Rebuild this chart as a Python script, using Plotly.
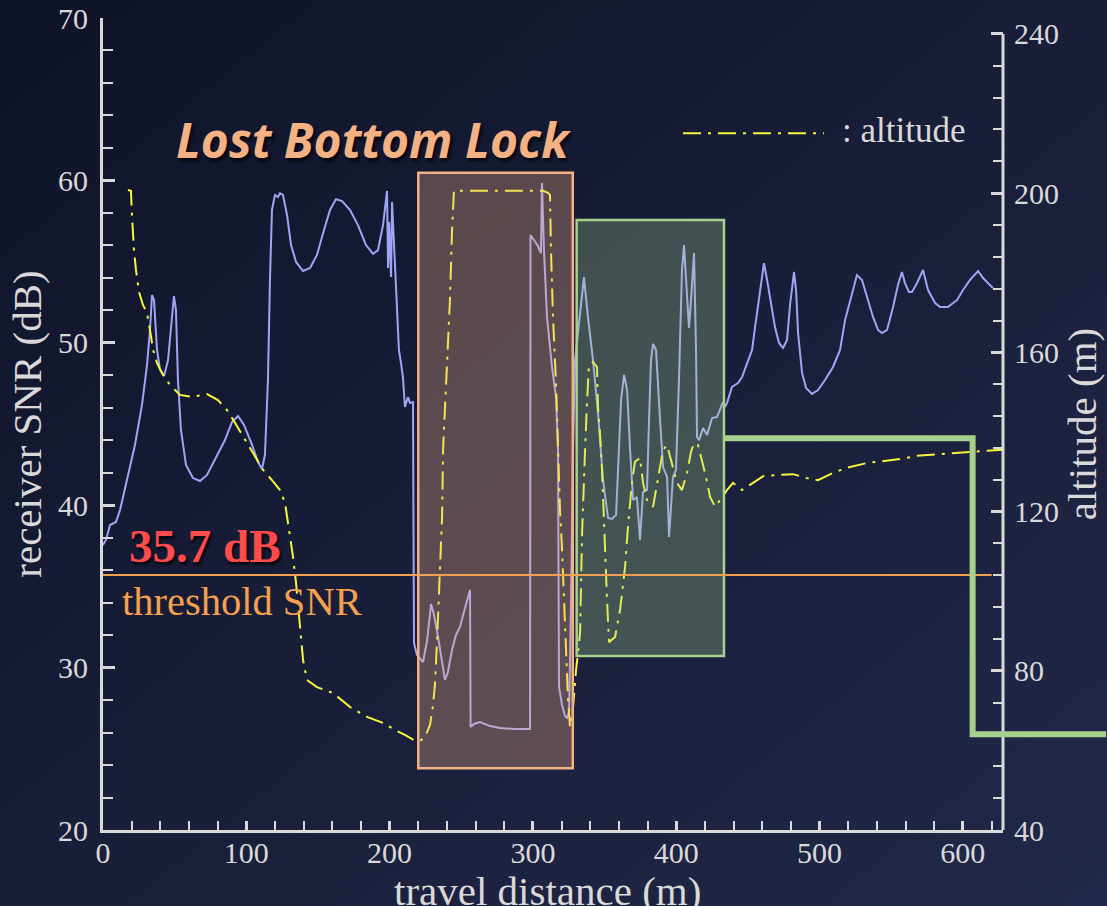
import base64
import plotly.graph_objects as go

# ---------------- data ----------------
distance_snr = [0, 2.1, 4.9, 9.1, 11.9, 16.7, 22.3, 27.2, 30.7, 32.8, 34.2, 35.6, 37.7, 39.8, 42.6,
                45.4, 47.5, 49.5, 50.9, 52.3, 54.4, 57.9, 62.8, 67.7, 72.6, 78.2, 85.1, 90.0, 94.2,
                98.4, 104.0, 108.2, 110.9, 113.0, 115.1, 116.5, 117.9, 120.0, 122.1, 123.5, 125.6,
                128.4, 131.2, 134.7, 139.6, 144.5, 149.3, 154.2, 158.4, 162.6, 166.8, 172.4, 177.9,
                183.5, 188.4, 191.9, 195.4, 198.2, 198.9, 199.6, 201.0, 201.7, 203.8, 205.2, 206.5,
                207.9, 209.3, 210.7, 212.8, 214.2, 216.3, 217.0, 219.1, 223.3, 226.2, 228.9, 231.0,
                233.8, 236.6, 238.6, 240.7, 243.5, 246.3, 249.1, 252.6, 256.1, 256.5, 258.9, 263.1,
                270.1, 277.0, 287.5, 298.0, 298.3, 300.7, 303.5, 305.6, 306.3, 307.7, 309.8, 313.3,
                316.1, 317.5, 318.2, 320.3, 322.4, 323.8, 325.2, 326.6, 328.0, 329.4, 332.2, 335.6,
                338.4, 341.9, 345.4, 348.9, 352.4, 355.2, 358.0, 360.1, 361.5, 363.6, 365.7, 367.8,
                369.9, 372.6, 374.7, 376.8, 379.6, 381.0, 382.4, 383.8, 385.9, 388.7, 390.8, 393.6,
                395.0, 397.7, 399.8, 401.9, 404.0, 405.4, 407.5, 408.9, 410.3, 412.4, 413.8, 414.5,
                415.9, 418.7, 421.5, 425.0, 428.4, 432.6, 434.0, 435.4, 438.9, 443.1, 445.9, 449.4,
                452.9, 455.0, 458.5, 461.2, 463.4, 465.4, 468.9, 471.7, 474.5, 477.3, 479.4, 482.2,
                483.6, 485.0, 487.8, 490.6, 494.7, 498.9, 503.8, 509.4, 514.3, 517.8, 522.7, 526.1,
                529.6, 533.8, 537.3, 540.8, 543.6, 547.1, 551.3, 554.7, 557.5, 559.6, 562.4, 564.5,
                568.0, 572.2, 575.7, 580.6, 584.1, 589.6, 596.0, 600.1, 605.0, 610.6, 614.1, 616.8,
                621.0]
snr_db = [37.55, 37.86, 38.78, 38.97, 39.70, 41.55, 43.71, 46.17, 48.63, 50.79, 52.94, 52.63, 49.56,
          48.33, 47.96, 48.94, 50.79, 52.88, 52.02, 47.71, 44.63, 42.48, 41.67, 41.49, 41.86, 42.78,
          44.01, 45.12, 45.49, 44.94, 43.71, 42.66, 42.23, 43.09, 47.71, 53.87, 58.18, 59.10, 58.98,
          59.22, 59.10, 57.87, 56.02, 54.98, 54.42, 54.61, 55.41, 56.95, 58.18, 58.85, 58.73, 58.18,
          57.25, 56.02, 55.47, 55.71, 57.25, 59.35, 54.61, 57.44, 54.05, 58.67, 54.48, 51.22, 49.56,
          48.76, 47.89, 46.05, 46.66, 46.29, 46.35, 31.51, 30.78, 30.34, 31.70, 33.92, 33.24, 31.88,
          30.16, 29.24, 29.73, 31.08, 32.01, 32.50, 33.67, 34.78, 26.34, 26.53, 26.65, 26.40, 26.28,
          26.22, 26.22, 56.64, 56.33, 55.96, 55.53, 59.84, 55.71, 51.59, 48.51, 46.66, 43.40, 28.81,
          27.70, 27.02, 26.90, 27.27, 34.16, 43.40, 48.94, 51.40, 54.05, 51.59, 48.94, 45.68, 41.55,
          39.21, 39.15, 39.40, 43.40, 46.48, 48.02, 47.09, 43.40, 40.32, 40.50, 37.86, 40.81, 40.94,
          45.25, 48.94, 49.93, 49.56, 45.25, 42.35, 41.74, 38.04, 41.74, 42.17, 47.71, 54.48, 56.02,
          52.63, 50.91, 52.63, 55.53, 49.56, 44.20, 44.01, 44.75, 44.32, 45.37, 45.43, 46.35, 46.05,
          46.29, 47.28, 47.52, 47.89, 48.76, 49.56, 50.97, 53.25, 54.91, 53.87, 52.82, 50.97, 49.99,
          49.68, 50.17, 52.33, 54.36, 53.25, 50.60, 48.14, 47.22, 46.85, 47.09, 47.71, 48.51, 49.56,
          51.40, 53.07, 54.17, 53.87, 52.64, 51.59, 50.79, 50.60, 50.79, 52.20, 53.56, 54.36, 53.68,
          53.13, 53.13, 53.68, 54.48, 53.25, 52.45, 52.20, 52.20, 52.64, 53.25, 53.87, 54.42, 53.99,
          53.74, 53.37]

distance_alt = [17.4, 19.5, 20.2, 21.6, 23.0, 25.1, 27.9, 30.7, 32.8, 35.0, 37.7, 41.9, 46.8, 53.7,
                62.1, 72.6, 80.2, 86.5, 92.1, 100.5, 107.5, 111.6, 117.9, 123.5, 127.0, 129.1, 131.2,
                132.6, 134.7, 137.5, 139.6, 142.3, 149.3, 160.5, 172.4, 184.2, 195.4, 203.8, 210.7,
                217.7, 221.2, 224.7, 228.2, 230.3, 231.7, 233.1, 234.5, 236.6, 237.3, 240.0, 242.1,
                243.5, 244.9, 263.1, 284.0, 307.0, 310.5, 311.9, 312.6, 314.0, 316.1, 317.5, 318.9,
                320.3, 322.4, 324.5, 325.9, 328.0, 330.1, 331.5, 332.9, 334.3, 335.6, 336.3, 337.7,
                339.1, 341.9, 344.7, 345.4, 346.8, 348.2, 349.6, 351.7, 353.1, 357.3, 360.8, 364.3,
                366.3, 369.1, 371.2, 374.7, 376.8, 379.6, 383.8, 386.6, 388.7, 390.8, 393.6, 397.1,
                400.5, 404.0, 407.5, 410.3, 412.4, 415.2, 418.0, 420.1, 423.6, 427.1, 430.6, 435.4,
                439.6, 445.9, 453.6, 460.6, 472.4, 481.5, 491.3, 498.9, 509.4, 519.2, 533.1, 544.3,
                556.1, 568.0, 584.1, 605.0, 628.0]
altitude_m = [200.8, 200.6, 194.5, 185.7, 180.7, 175.2, 171.9, 169.9, 165.6, 160.6, 157.3, 154.3,
              151.8, 149.3, 148.8, 149.5, 148.0, 145.5, 142.3, 137.2, 133.0, 130.5, 127.9, 125.4,
              122.2, 117.1, 112.1, 108.6, 102.1, 90.3, 82.7, 77.7, 75.9, 74.4, 70.9, 68.4, 66.9, 65.1,
              63.9, 62.4, 62.4, 63.4, 66.4, 71.4, 76.9, 87.7, 102.1, 118.6, 135.5, 156.3, 173.2, 190.0,
              200.6, 200.6, 200.6, 200.6, 200.1, 199.5, 185.7, 168.9, 152.3, 135.5, 120.4, 110.4, 89.5,
              72.7, 65.9, 70.9, 80.2, 85.2, 89.5, 114.6, 131.2, 134.7, 147.3, 156.8, 157.6, 156.3,
              146.3, 139.7, 130.5, 115.4, 97.8, 87.2, 88.5, 95.3, 106.1, 116.1, 127.2, 132.5, 133.5,
              127.2, 122.9, 121.2, 127.2, 131.2, 135.5, 136.7, 132.2, 127.2, 125.4, 129.7, 135.0,
              137.2, 136.7, 133.0, 129.7, 123.7, 121.2, 122.9, 125.4, 127.2, 125.4, 127.2, 128.9,
              129.2, 129.4, 128.4, 127.9, 129.7, 131.0, 132.2, 132.7, 133.2, 134.0, 134.5, 135.0,
              135.5]

threshold_db = 35.7
lost_lock_x = [220.0, 327.8]
lost_lock_snr = [23.8, 60.47]
recovery_x = [330.5, 433.3]
recovery_snr = [30.71, 57.56]
step_x = [433.3, 606.8, 606.8, 700.0]
step_snr = [44.12, 44.12, 25.9, 25.9]
threshold_x = [0, 620.1]
legend_x = [404.7, 503.0]
legend_snr = 62.9

X_RANGE = [0, 628]
SNR_RANGE = [20, 70]
ALT_RANGE = [40, 244]
ALT_AXIS = [40, 240]

# ---------------- styles ----------------
AXIS_COLOR = "#d9d9d9"
SERIF = "Liberation Serif"
SNR_COLOR = "#a0a4f4"
ALT_COLOR = "#f7f73a"
SALMON = "#f4b183"
GREEN = "#a9d18e"
DASHDOT = "18px,7px,3px,7px"

W, H = 1107, 906
ML, MR, MT, MB = 103, 104, 18, 76
PW, PH = W - ML - MR, H - MT - MB


def paper_x(v):
    return (v - X_RANGE[0]) / (X_RANGE[1] - X_RANGE[0])


fig = go.Figure()
fig.add_trace(go.Scatter(x=distance_snr, y=snr_db, mode="lines", name="receiver SNR",
                         line=dict(color=SNR_COLOR, width=2), showlegend=False, yaxis="y"))
fig.add_trace(go.Scatter(x=distance_alt, y=altitude_m, mode="lines", name="altitude",
                         line=dict(color=ALT_COLOR, width=2, dash=DASHDOT),
                         showlegend=False, yaxis="y2"))

shapes = [
    dict(type="rect", xref="x", yref="y", x0=lost_lock_x[0], x1=lost_lock_x[1],
         y0=lost_lock_snr[0], y1=lost_lock_snr[1], fillcolor="rgba(244,177,131,0.31)",
         line=dict(color=SALMON, width=2.5), layer="above"),
    dict(type="rect", xref="x", yref="y", x0=recovery_x[0], x1=recovery_x[1],
         y0=recovery_snr[0], y1=recovery_snr[1], fillcolor="rgba(169,209,142,0.29)",
         line=dict(color=GREEN, width=2.5), layer="above"),
    dict(type="line", xref="x", yref="y", x0=threshold_x[0], x1=threshold_x[1],
         y0=threshold_db, y1=threshold_db, line=dict(color="#f0a050", width=2), layer="above"),
    dict(type="line", xref="x", yref="y", x0=legend_x[0], x1=legend_x[1],
         y0=legend_snr, y1=legend_snr, line=dict(color=ALT_COLOR, width=2, dash=DASHDOT),
         layer="above"),
    # right axis spine (only spans 40..240)
    dict(type="line", xref="paper", yref="y2", x0=1, x1=1, y0=ALT_AXIS[0], y1=ALT_AXIS[1],
         line=dict(color=AXIS_COLOR, width=3), layer="above"),
]
path = "M " + " L ".join(f"{paper_x(xv):.5f},{yv}" for xv, yv in zip(step_x, step_snr))
shapes.append(dict(type="path", xref="paper", yref="y", path=path,
                   line=dict(color=GREEN, width=6), layer="above"))

titlefont = dict(family=SERIF, size=41, color=AXIS_COLOR)

annotations = [
    dict(text="Lost Bottom Lock", xref="x", yref="y", x=189, y=62.5, showarrow=False,
         xanchor="center", yanchor="middle",
         font=dict(family="Open Sans", size=48, color=SALMON, weight="bold", style="italic",
                   shadow="2px 3px 3px rgba(0,0,0,0.75)")),
    dict(text="35.7 dB", xref="x", yref="y", x=16.7, y=37.5, showarrow=False,
         xanchor="left", yanchor="middle",
         font=dict(family=SERIF, size=47, color="#ff4b4b", weight="bold",
                   shadow="2px 3px 3px rgba(0,0,0,0.75)")),
    dict(text="threshold SNR", xref="x", yref="y", x=11.9, y=34.05, showarrow=False,
         xanchor="left", yanchor="middle",
         font=dict(family=SERIF, size=40.5, color="#f4a04e")),
    dict(text=": altitude", xref="x", yref="y", x=514.3, y=63.05, showarrow=False,
         xanchor="left", yanchor="middle",
         font=dict(family=SERIF, size=35, color=AXIS_COLOR)),
    # x-axis title (placed as an annotation so it can sit at the very bottom like the original)
    dict(text="travel distance (m)", xref="paper", yref="paper", x=0.494, y=0, showarrow=False,
         xanchor="center", yanchor="middle", yshift=-61, font=titlefont),
]

# gradient background
svg = (f'<svg xmlns="http://www.w3.org/2000/svg" width="{W}" height="{H}">'
       '<defs><linearGradient id="g" x1="0" y1="0" x2="1" y2="1">'
       '<stop offset="0" stop-color="#0f1329"/><stop offset="1" stop-color="#222849"/>'
       '</linearGradient></defs>'
       f'<rect width="{W}" height="{H}" fill="url(#g)"/></svg>')
src = "data:image/svg+xml;base64," + base64.b64encode(svg.encode()).decode()

tickfont = dict(family=SERIF, size=30, color=AXIS_COLOR)

fig.update_layout(
    width=W, height=H,
    margin=dict(l=ML, r=MR, t=MT, b=MB, pad=0),
    paper_bgcolor="#181d38", plot_bgcolor="rgba(0,0,0,0)",
    showlegend=False,
    shapes=shapes, annotations=annotations,
    images=[dict(source=src, xref="paper", yref="paper", x=-ML / PW, y=1 + MT / PH,
                 sizex=W / PW, sizey=H / PH, xanchor="left", yanchor="top",
                 sizing="stretch", layer="below")],
    xaxis=dict(range=X_RANGE, showgrid=False, zeroline=False, showline=True,
               linecolor=AXIS_COLOR, linewidth=3, ticks="inside", ticklen=9, tickwidth=3,
               tickcolor=AXIS_COLOR, dtick=100, tick0=0, tickfont=tickfont,
               ticklabelstandoff=-6,
               minor=dict(dtick=20, ticks="inside", ticklen=9, tickwidth=1.5,
                          tickcolor=AXIS_COLOR, showgrid=False),
               automargin=False),
    yaxis=dict(range=SNR_RANGE, showgrid=False, zeroline=False, showline=True,
               linecolor=AXIS_COLOR, linewidth=3, ticks="inside", ticklen=12, tickwidth=3,
               tickcolor=AXIS_COLOR, dtick=10, tick0=20, tickfont=tickfont,
               ticklabelstandoff=6,
               minor=dict(dtick=2, ticks="inside", ticklen=10, tickwidth=1.5,
                          tickcolor=AXIS_COLOR, showgrid=False),
               title=dict(text="receiver SNR (dB)", font=titlefont, standoff=4),
               automargin=False),
    yaxis2=dict(range=ALT_RANGE, overlaying="y", side="right", showgrid=False, zeroline=False,
                showline=False, ticks="inside", ticklen=12, tickwidth=3,
                tickcolor=AXIS_COLOR, dtick=40, tick0=40, tickfont=tickfont,
                ticklabelstandoff=10,
                minor=dict(dtick=8, ticks="inside", ticklen=10, tickwidth=1.5,
                           tickcolor=AXIS_COLOR, showgrid=False),
                title=dict(text="altitude (m)", font=titlefont, standoff=9),
                automargin=False),
)

fig.write_html("out.html", config={"displayModeBar": False},
               post_script="document.body.style.margin='0';"
                           "document.body.style.background='#181d38';")
